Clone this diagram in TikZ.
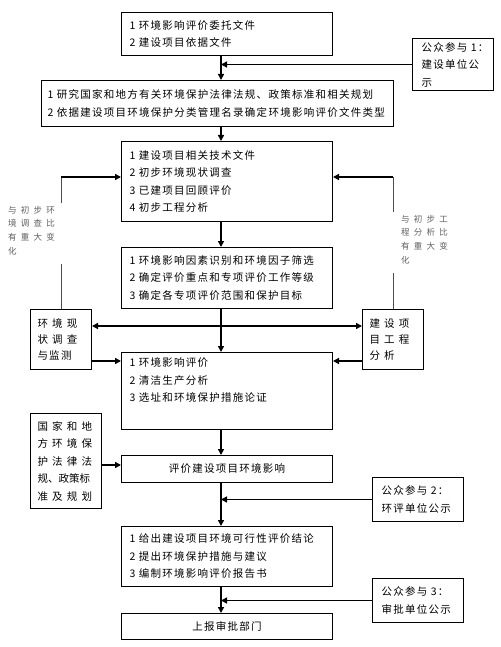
\documentclass[tikz,border=0pt]{standalone}
\usepackage{fontspec}
\newfontfamily\cjk[LetterSpace=12]{Noto Sans CJK SC}
\newfontfamily\cjkwide[LetterSpace=40]{Noto Sans CJK SC}
\newfontfamily\cjkplain{Noto Sans CJK SC}
\newfontfamily\cjksmall[LetterSpace=50]{Noto Sans CJK SC}
\usepackage{tikz}
\usetikzlibrary{arrows.meta,calc,positioning}
\tikzset{
  box/.style={draw,line width=1pt,anchor=north west,inner xsep=8pt,inner ysep=0pt,
    align=left,font=\cjk\fontsize{10.5}{17.5}\selectfont},
  side/.style={box,inner xsep=7pt,font=\cjkwide\fontsize{10.5}{16}\selectfont},
  note/.style={gray!75!black,align=left,inner sep=0pt,anchor=north west,
    font=\cjksmall\fontsize{8.5}{13.6}\selectfont},
  feed/.style={gray!60!black,line width=0.9pt}
}
\tikzstyle{arrow} = [line width=1.8pt,-{Triangle[length=6pt,width=6pt]}]
\tikzstyle{both} = [line width=1.8pt,{Triangle[length=6pt,width=6pt]}-{Triangle[length=6pt,width=6pt]}]

\begin{document}
\begin{tikzpicture}[x=1pt,y=-1pt]
  \fill[white] (0,0) rectangle (500,647);
  \useasboundingbox (0,0) rectangle (500,647);

  % Main column
  \node[box,text width=195pt,minimum height=43pt] (entrust) at (121,12)
    {1~环境影响评价委托文件\\2~建设项目依据文件};
  \node[box,text width=340pt,inner xsep=6pt,minimum height=46pt] (regul) at (41,80)
    {1~研究国家和地方有关环境保护法律法规、政策标准和相关规划\\2~依据建设项目环境保护分类管理名录确定环境影响评价文件类型};
  \node[box,text width=195pt,minimum height=80pt] (techdoc) at (121,141)
    {1~建设项目相关技术文件\\2~初步环境现状调查\\3~已建项目回顾评价\\4~初步工程分析};
  \node[box,text width=195pt,minimum height=61pt] (screen) at (121,247)
    {1~环境影响因素识别和环境因子筛选\\2~确定评价重点和专项评价工作等级\\3~确定各专项评价范围和保护目标};
  \node[box,text width=195pt,minimum height=77pt] (assess) at (121,352)
    {1~环境影响评价\\2~清洁生产分析\\3~选址和环境保护措施论证\\\strut};
  \node[box,text width=195pt,align=center,minimum height=27pt] (impact) at (121,455)
    {评价建设项目环境影响};
  \node[box,text width=195pt,minimum height=60pt] (conclude) at (121,526)
    {1~给出建设项目环境可行性评价结论\\2~提出环境保护措施与建议\\3~编制环境影响评价报告书};
  \node[box,text width=195pt,align=center,minimum height=26pt] (report) at (121,613)
    {上报审批部门};

  % Public participation
  \node[box,text width=63pt,inner xsep=9pt,minimum height=52pt] (pub1) at (412,38)
    {公众参与~1：\\建设单位公\\示};
  \node[box,text width=73pt,inner xsep=9pt,minimum height=44pt] (pub2) at (372,477)
    {公众参与~2：\\环评单位公示};
  \node[box,text width=73pt,inner xsep=9pt,minimum height=44pt] (pub3) at (372,578)
    {公众参与~3：\\审批单位公示};

  % Side boxes
  \node[side,text width=47pt,minimum height=60pt] (survey) at (30,309)
    {环境现\\状调查\\{\cjk 与监测}};
  \node[side,text width=47pt,minimum height=60pt] (engana) at (362,309)
    {建设项\\目工程\\分析};
  \node[side,text width=57pt,minimum height=95pt,font=\cjkwide\fontsize{10.5}{17.5}\selectfont] (law) at (30,413)
    {国家和地\\方环境保\\护法律法\\{\cjkplain 规、政策标}\\准及规划};

  % Feedback notes
  \node[note] (noteL) at (8,206) {与初步环\\境调查比\\有重大变\\化};
  \node[note] (noteR) at (401,215) {与初步工\\程分析比\\有重大变\\化};

  % Spine
  \coordinate (spine) at (221,0);
  \coordinate (hub) at (221,326);
  \draw[arrow] (spine |- entrust.south) -- (spine |- regul.north);
  \draw[arrow] (pub1.west) -- (pub1.west -| spine);
  \draw[arrow] (spine |- regul.south) -- (spine |- techdoc.north);
  \draw[arrow] (spine |- techdoc.south) -- (spine |- screen.north);
  \draw[line width=1.8pt] (spine |- screen.south) -- (hub);
  \draw[arrow] (hub) -- (spine |- assess.north);
  \draw[both] (survey.east |- hub) -- (engana.west |- hub);
  \draw[arrow] (survey.east |- 0,361) -- (assess.west |- 0,361);
  \draw[arrow] (engana.west |- 0,361) -- (assess.east |- 0,361);
  \draw[arrow] (spine |- assess.south) -- (spine |- impact.north);
  \draw[arrow] (law.east |- 0,465) -- (impact.west |- 0,465);
  \draw[arrow] (spine |- impact.south) -- (spine |- conclude.north);
  \draw[arrow] (pub2.west) -- (pub2.west -| spine);
  \draw[arrow] (spine |- conclude.south) -- (spine |- report.north);
  \draw[arrow] (pub3.west) -- (pub3.west -| spine);

  % Feedback loops
  \draw[feed] (survey.north) -- (survey.north |- 0,264);
  \draw[feed] (survey.north |- 0,203) -- (survey.north |- 0,177);
  \draw[arrow] (survey.north |- 0,177) -- (techdoc.west |- 0,177);
  \draw[feed] (engana.north) -- (engana.north |- 0,273);
  \draw[feed] (engana.north |- 0,212) -- (engana.north |- 0,177);
  \draw[arrow] (engana.north |- 0,177) -- (techdoc.east |- 0,177);
\end{tikzpicture}
\end{document}
